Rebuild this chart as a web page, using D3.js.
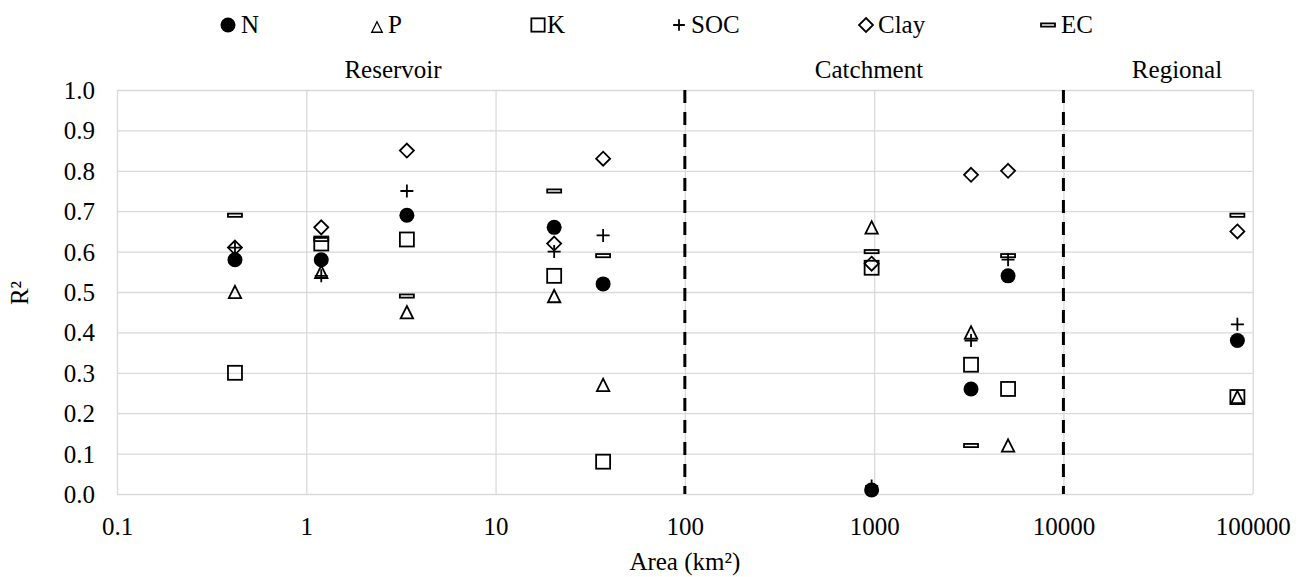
<!DOCTYPE html>
<html>
<head>
<meta charset="utf-8">
<script src="https://cdn.jsdelivr.net/npm/d3@7/dist/d3.min.js"></script>
<style>
  html, body { margin: 0; padding: 0; background: #fff; }
  svg text { font-family: "Liberation Serif", "Times New Roman", serif !important; fill: #000; }
</style>
</head>
<body>
<svg id="chart" width="1304" height="577"></svg>
<script>
// Catchment / reservoir areas (km²) for each study
const areas = [0.42, 1.2, 3.4, 20.4, 37, 970, 3250, 5100, 83000];

// R² per soil property
const seriesN    = [0.58, 0.58, 0.69, 0.66, 0.52, 0.01, 0.26, 0.54, 0.38];
const seriesP    = [0.50, 0.55, 0.45, 0.49, 0.27, 0.66, 0.40, 0.12, 0.24];
const seriesK    = [0.30, 0.62, 0.63, 0.54, 0.08, 0.56, 0.32, 0.26, 0.24];
const seriesSOC  = [0.61, 0.54, 0.75, 0.60, 0.64, 0.02, 0.38, 0.58, 0.42];
const seriesClay = [0.61, 0.66, 0.85, 0.62, 0.83, 0.57, 0.79, 0.80, 0.65];
const seriesEC   = [0.69, 0.63, 0.49, 0.75, 0.59, 0.60, 0.12, 0.59, 0.69];

const xTicks = [0.1, 1, 10, 100, 1000, 10000, 100000];
const yTicks = [0, 0.1, 0.2, 0.3, 0.4, 0.5, 0.6, 0.7, 0.8, 0.9, 1.0];
const scaleBreaks = [100, 10000];
const regionLabels = ["Reservoir", "Catchment", "Regional"];

const series = [
  { name: "N",    values: seriesN,    shape: "circle" },
  { name: "P",    values: seriesP,    shape: "triangle" },
  { name: "K",    values: seriesK,    shape: "square" },
  { name: "SOC",  values: seriesSOC,  shape: "plus" },
  { name: "Clay", values: seriesClay, shape: "diamond" },
  { name: "EC",   values: seriesEC,   shape: "bar" }
];

const FONT = '"Liberation Serif", "Times New Roman", serif';
const svg = d3.select("#chart");
const plot = { left: 117, right: 1252.7, top: 90, bottom: 494 };

const x = d3.scaleLog().domain([0.1, 100000]).range([plot.left, plot.right]);
const y = d3.scaleLinear().domain([0, 1]).range([plot.bottom, plot.top]);

const gridColor = "#d9d9d9";

// horizontal gridlines + y labels
const yAxis = d3.axisLeft(y).tickValues(yTicks).tickFormat(d3.format(".1f"))
  .tickSize(-(plot.right - plot.left)).tickPadding(22);
const gy = svg.append("g").attr("transform", `translate(${plot.left},0)`).call(yAxis)
  .attr("font-family", FONT);
gy.select(".domain").remove();
gy.selectAll(".tick line").attr("stroke", gridColor).attr("stroke-width", 1.3);
gy.selectAll(".tick text").attr("font-size", 25).attr("dy", "0.34em")
  .style("font-family", FONT);

// vertical gridlines + x labels
const xAxis = d3.axisBottom(x).tickValues(xTicks).tickFormat(d => d < 1 ? "0.1" : d3.format("d")(d))
  .tickSize(-(plot.bottom - plot.top)).tickPadding(0);
const gx = svg.append("g").attr("transform", `translate(0,${plot.bottom})`).call(xAxis)
  .attr("font-family", FONT);
gx.select(".domain").remove();
gx.selectAll(".tick line").attr("stroke", gridColor).attr("stroke-width", 1.3);
gx.selectAll(".tick text").attr("font-size", 25).attr("y", 41).attr("dy", 0)
  .style("font-family", FONT);

// dashed boundaries between scales
svg.append("g").selectAll("line").data(scaleBreaks).join("line")
  .attr("x1", d => x(d)).attr("x2", d => x(d))
  .attr("y1", plot.top).attr("y2", plot.bottom)
  .attr("stroke", "#000").attr("stroke-width", 3)
  .attr("stroke-dasharray", "13,9");

// region labels
const regionX = [393, 869, 1177];
svg.append("g").selectAll("text").data(regionLabels).join("text")
  .attr("x", (d, i) => regionX[i]).attr("y", 78)
  .attr("text-anchor", "middle").attr("font-size", 25).text(d => d);

// marker drawing
function drawMarker(g, shape, s) {
  const sw = 1.8;
  switch (shape) {
    case "circle":
      g.append("circle").attr("r", 7.5 * s).attr("fill", "#000");
      break;
    case "triangle": {
      const w = 6.2 * s, h = 6.2 * s;
      g.append("path").attr("d", `M0,${-h}L${w},${h}L${-w},${h}Z`)
        .attr("fill", "none").attr("stroke", "#000").attr("stroke-width", sw);
      break;
    }
    case "square":
      g.append("rect").attr("x", -7 * s).attr("y", -7 * s).attr("width", 14 * s).attr("height", 14 * s)
        .attr("fill", "none").attr("stroke", "#000").attr("stroke-width", sw);
      break;
    case "plus":
      g.append("path").attr("d", `M${-6.5 * s},0H${6.5 * s}M0,${-6.5 * s}V${6.5 * s}`)
        .attr("fill", "none").attr("stroke", "#000").attr("stroke-width", sw);
      break;
    case "diamond":
      g.append("path").attr("d", `M0,${-7 * s}L${7 * s},0L0,${7 * s}L${-7 * s},0Z`)
        .attr("fill", "none").attr("stroke", "#000").attr("stroke-width", sw);
      break;
    case "bar":
      g.append("rect").attr("x", -7 * s).attr("y", -1.6).attr("width", 14 * s).attr("height", 3.2)
        .attr("fill", "none").attr("stroke", "#000").attr("stroke-width", sw);
      break;
  }
}

// data points
series.forEach(ser => {
  const g = svg.append("g").attr("class", "series-" + ser.name);
  ser.values.forEach((v, i) => {
    const m = g.append("g").attr("transform", `translate(${x(areas[i])},${y(v)})`);
    drawMarker(m, ser.shape, 1);
  });
});

// legend
const legendMarkerX = [228, 377, 538, 679, 866, 1048];
const legendTextX = [241, 388, 547, 691, 878, 1061];
const legendScale = [1, 0.85, 0.95, 0.9, 1, 1];
const legend = svg.append("g");
series.forEach((ser, i) => {
  const m = legend.append("g").attr("transform", `translate(${legendMarkerX[i]},${ser.shape === "triangle" ? 27 : 25})`);
  drawMarker(m, ser.shape, legendScale[i]);
  if (ser.shape === "triangle") m.selectAll("path").attr("stroke-width", 1.3);
  legend.append("text").attr("x", legendTextX[i]).attr("y", 33)
    .attr("font-size", 25).text(ser.name);
});

// axis titles
svg.append("text").attr("x", (plot.left + plot.right) / 2).attr("y", 570)
  .attr("text-anchor", "middle").attr("font-size", 25).text("Area (km²)");
svg.append("text").attr("transform", "translate(28,293) rotate(-90)")
  .attr("text-anchor", "middle").attr("font-size", 25).text("R²");
</script>
</body>
</html>
